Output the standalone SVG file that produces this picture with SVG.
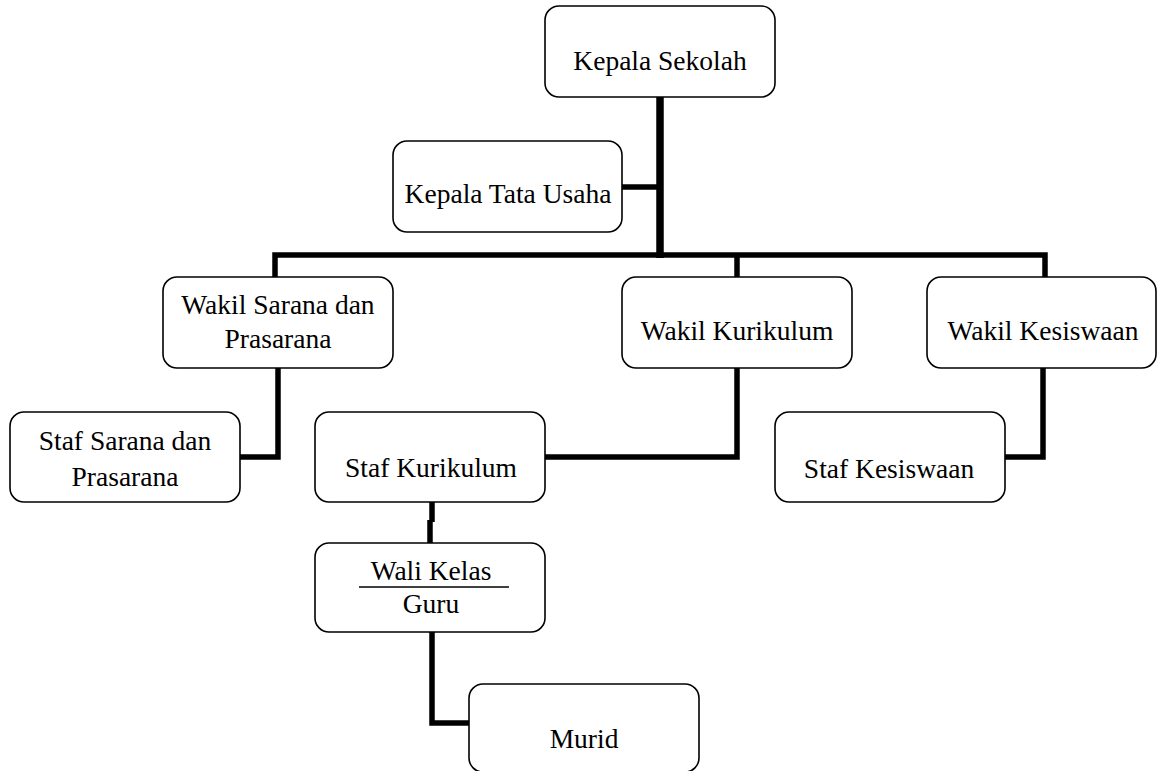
<svg xmlns="http://www.w3.org/2000/svg" width="1157" height="771" viewBox="0 0 1157 771">
<style>
.box{fill:#fff;stroke:#000;stroke-width:1.6}
.t{font-family:"Liberation Serif","Times New Roman",serif;font-size:27.5px;fill:#000;text-anchor:middle}
.c{fill:none;stroke:#000;stroke-width:5.5;stroke-linejoin:miter;stroke-linecap:butt}
</style>
<rect width="1157" height="771" fill="#fff"/>
<g id="connectors">
<path class="c" d="M275,278 V255 H1045 V278"/>
<path class="c" d="M660,97 V258" style="stroke-width:7.5"/>
<path class="c" d="M622,187 H660"/>
<path class="c" d="M737,255 V278"/>
<path class="c" d="M278,368 V457 H240"/>
<path class="c" d="M737,368 V457 H545"/>
<path class="c" d="M1043,368 V457 H1005"/>
<path class="c" d="M432,502 V522"/>
<path class="c" d="M430,520 V543"/>
<path class="c" d="M432,632 V723 H469"/>
</g>
<g id="kepala-sekolah">
<rect class="box" x="545" y="6" width="230" height="91" rx="14"/>
<text class="t" x="660" y="70">Kepala Sekolah</text>
</g>
<g id="kepala-tata-usaha">
<rect class="box" x="393" y="141" width="229" height="91" rx="14"/>
<text class="t" x="508" y="203">Kepala Tata Usaha</text>
</g>
<g id="wakil-sarana">
<rect class="box" x="163" y="277" width="230" height="91" rx="14"/>
<text class="t" x="278" y="314">Wakil Sarana dan</text>
<text class="t" x="278" y="348">Prasarana</text>
</g>
<g id="wakil-kurikulum">
<rect class="box" x="622" y="277" width="230" height="91" rx="14"/>
<text class="t" x="737" y="340">Wakil Kurikulum</text>
</g>
<g id="wakil-kesiswaan">
<rect class="box" x="927" y="277" width="229" height="91" rx="14"/>
<text class="t" x="1043" y="340">Wakil Kesiswaan</text>
</g>
<g id="staf-sarana">
<rect class="box" x="10" y="412" width="230" height="90" rx="14"/>
<text class="t" x="125" y="450">Staf Sarana dan</text>
<text class="t" x="125" y="486">Prasarana</text>
</g>
<g id="staf-kurikulum">
<rect class="box" x="315" y="412" width="230" height="90" rx="14"/>
<text class="t" x="431" y="477">Staf Kurikulum</text>
</g>
<g id="staf-kesiswaan">
<rect class="box" x="775" y="412" width="230" height="90" rx="14"/>
<text class="t" x="889" y="478">Staf Kesiswaan</text>
</g>
<g id="wali-kelas-guru">
<rect class="box" x="315" y="543" width="230" height="89" rx="14"/>
<text class="t" x="431" y="580">Wali Kelas</text>
<line x1="359" y1="587" x2="509" y2="587" stroke="#000" stroke-width="1.6"/>
<text class="t" x="431" y="613">Guru</text>
</g>
<g id="murid">
<rect class="box" x="469" y="684" width="230" height="88" rx="14"/>
<text class="t" x="584" y="748">Murid</text>
</g>
</svg>
